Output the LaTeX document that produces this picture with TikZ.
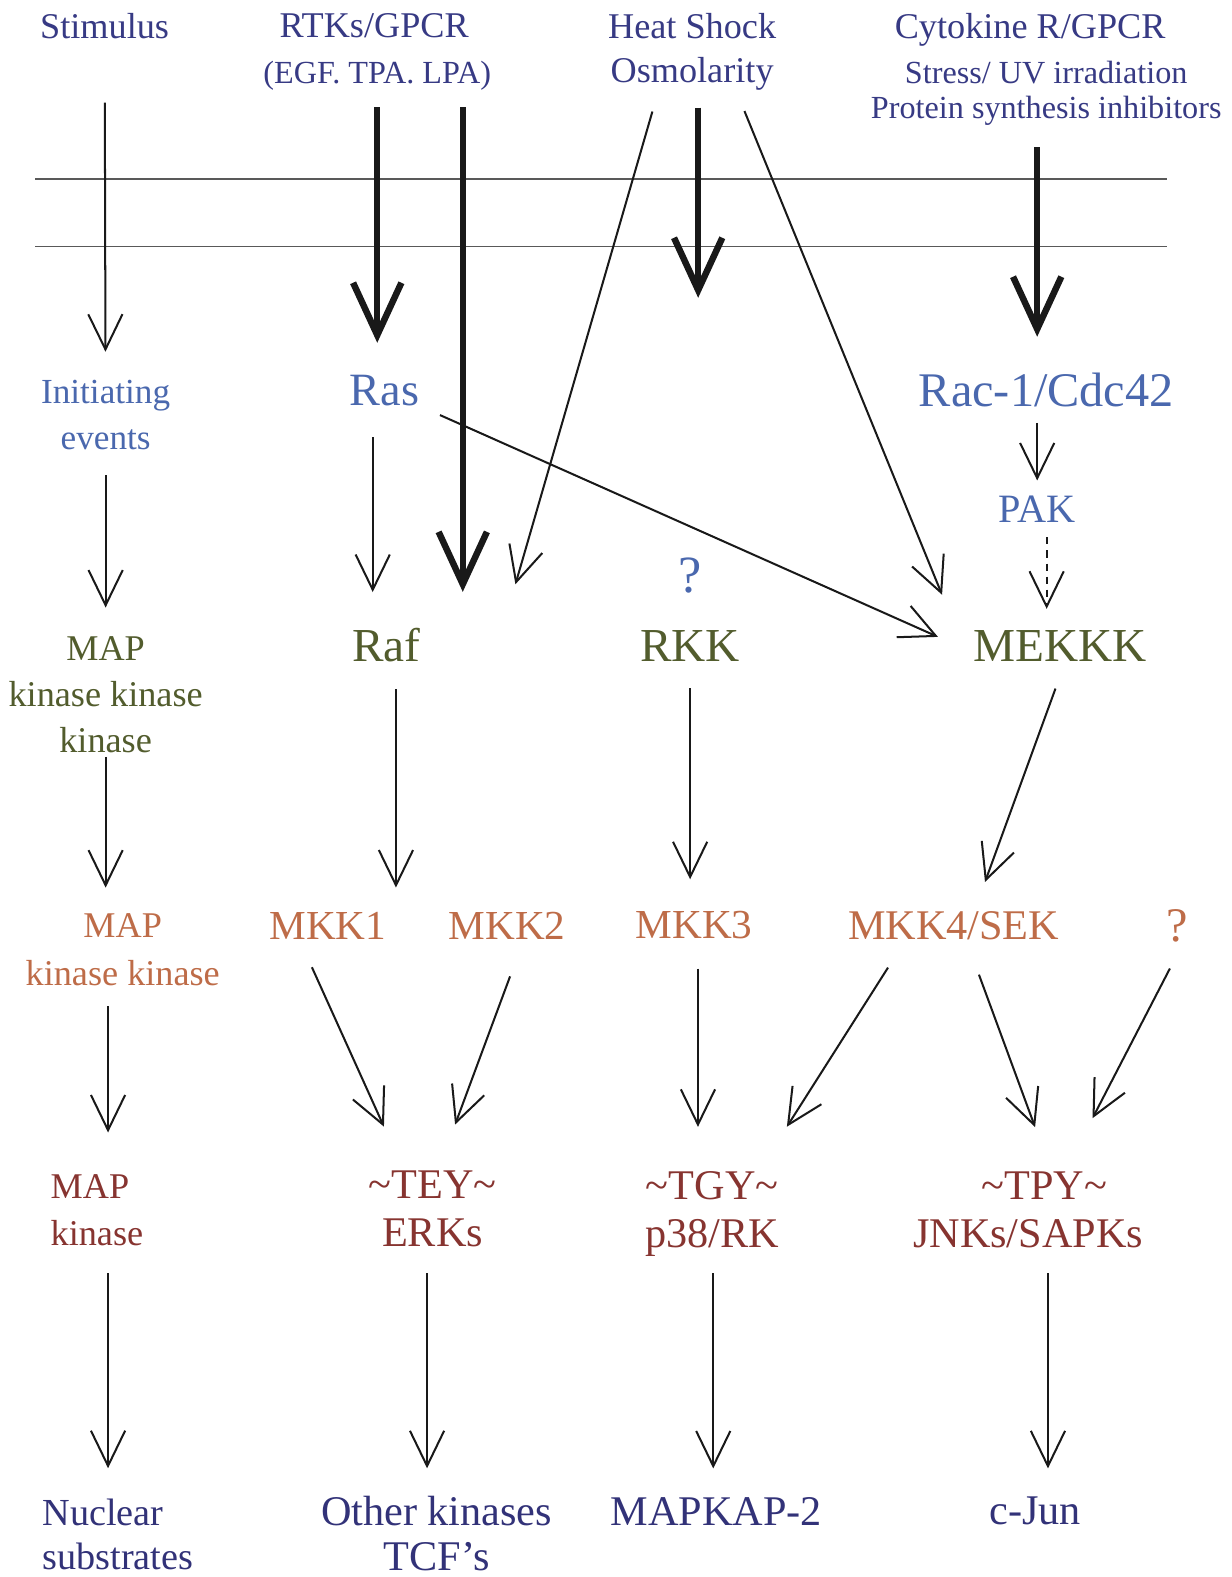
\documentclass[tikz,border=0pt]{standalone}
\usepackage{fontspec}
\setmainfont{Liberation Serif}
\usepackage{tikz}
\usetikzlibrary{arrows.meta}
\usepackage{xcolor}

\definecolor{cstim}{RGB}{55,58,132}
\definecolor{cinit}{RGB}{74,104,174}
\definecolor{ckkk}{RGB}{82,92,45}
\definecolor{ckk}{RGB}{190,108,72}
\definecolor{ck}{RGB}{135,52,48}
\definecolor{cout}{RGB}{50,50,120}
\newcommand{\txtsize}[2]{\fontsize{#1pt}{#2pt}\selectfont}

\begin{document}
\begin{tikzpicture}[x=0.5pt, y=-0.5pt,
  lbl/.style={inner sep=0pt, align=center},
  signal/.style={-{Straight Barb[length=17.5pt, width=17pt]}, line width=1pt, black!90},
  bigsignal/.style={-{Straight Barb[length=26pt, width=24pt]}, line width=3.2pt, black!90},
  weaksignal/.style={signal, dash pattern=on 3.5pt off 3pt}]
  \useasboundingbox[fill=white] (0, 0) rectangle (1224.6, 1567.6);

  % stimuli
  \node[lbl, text=cstim, font=\txtsize{18}{22}] (stim) at (104, 26) {Stimulus};
  \node[lbl, text=cstim, font=\txtsize{18}{22}] (rtk) at (372, 26) {RTKs/GPCR};
  \node[lbl, text=cstim, font=\txtsize{16}{18}] (rtkl) at (375, 75) {(EGF. TPA. LPA)};
  \node[lbl, text=cstim, font=\txtsize{18}{22}] (heat) at (688, 51.6) {Heat Shock\\Osmolarity};
  \node[lbl, text=cstim, font=\txtsize{18}{22}] (cyt) at (1024, 29.6) {Cytokine R/GPCR};
  \node[lbl, text=cstim, font=\txtsize{16}{17.5}] (stress) at (1040, 92.5) {Stress/ UV irradiation\\Protein synthesis inhibitors};

  % membrane
  \draw[line width=0.7pt, black!65] (35, 178) -- (1160, 178);
  \draw[line width=0.7pt, black!65] (35, 245) -- (1160, 245);

  % initiating events
  \node[lbl, text=cinit, font=\txtsize{17.5}{23}] (init) at (105, 412.6) {Initiating\\events};
  \node[lbl, text=cinit, font=\txtsize{23}{27}] (ras) at (382, 388) {Ras};
  \node[lbl, text=cinit, font=\txtsize{24}{28}] (rac) at (1040, 387.6) {Rac-1/Cdc42};
  \node[lbl, text=cinit, font=\txtsize{20}{24}] (pak) at (1031, 506) {PAK};
  \node[lbl, text=cinit, font=\txtsize{26}{30}] (rkkq) at (686, 572.5) {?};

  % MAP kinase kinase kinases
  \node[lbl, text=ckkk, font=\txtsize{18}{22.75}] (mkkk) at (105, 690.5) {MAP\\kinase kinase\\kinase};
  \node[lbl, text=ckkk, font=\txtsize{23.5}{28}] (raf) at (384, 641.5) {Raf};
  \node[lbl, text=ckkk, font=\txtsize{23.5}{28}] (rkk) at (686, 642) {RKK};
  \node[lbl, text=ckkk, font=\txtsize{23.5}{28}] (mekkk) at (1054, 642) {MEKKK};

  % MAP kinase kinases
  \node[lbl, text=ckk, font=\txtsize{18}{24}] (mkk) at (122, 944) {MAP\\kinase kinase};
  \node[lbl, text=ckk, font=\txtsize{20.5}{24}] (mkk1) at (326, 920) {MKK1};
  \node[lbl, text=ckk, font=\txtsize{20.5}{24}] (mkk2) at (504, 920) {MKK2};
  \node[lbl, text=ckk, font=\txtsize{20.5}{24}] (mkk3) at (690, 920) {MKK3};
  \node[lbl, text=ckk, font=\txtsize{21}{24}] (mkk4) at (948, 919.8) {MKK4/SEK};
  \node[lbl, text=ckk, font=\txtsize{24}{28}] (mkkq) at (1170, 920) {?};

  % MAP kinases
  \node[lbl, anchor=west, align=left, text=ck, font=\txtsize{18}{23}] (mapk) at (50, 1203) {MAP\\kinase};
  \node[lbl, text=ck, font=\txtsize{21}{24}] (erk) at (430, 1202) {\textasciitilde TEY\textasciitilde\\ERKs};
  \node[lbl, text=ck, font=\txtsize{21}{24}] (tgy) at (708, 1206.5) {\textasciitilde TGY\textasciitilde\\p38/RK};
  \node[lbl, text=ck, font=\txtsize{21}{24}] (tpy) at (1022, 1202.5) {\hspace*{16pt}\textasciitilde TPY\textasciitilde\\JNKs/SAPKs};

  % substrates
  \node[lbl, anchor=west, align=left, text=cout, font=\txtsize{19}{22.3}] (nuc) at (42, 1525.3) {Nuclear\\substrates};
  \node[lbl, text=cout, font=\txtsize{21}{22.3}] (other) at (434, 1524) {Other kinases\\TCF's};
  \node[lbl, text=cout, font=\txtsize{21}{24}] (mapkap) at (712, 1502) {MAPKAP-2};
  \node[lbl, text=cout, font=\txtsize{21}{24}] (cjun) at (1029, 1502) {c-Jun};

  \coordinate (hsend) at (694, 296);

  % through the membrane
  \draw[signal, shorten <=31.5pt, shorten >=13.9pt] (stim) -- (init);
  \draw[bigsignal, shorten <=8.4pt, shorten >=15.8pt] (rtkl.south) -- (rtkl.south |- ras.north);
  \draw[bigsignal, shorten <=8.4pt, shorten >=18pt] ([xshift=42.5pt]rtkl.south) -- ([xshift=42.5pt]rtkl.south |- raf.north);
  \draw[bigsignal, shorten <=8.3pt] (heat.south -| hsend) -- (hsend);
  \draw[signal] ([xshift=-19.75pt, yshift=-10.25pt]heat.south) -- ([xshift=47pt, yshift=21.75pt]raf.north east);
  \draw[signal] ([xshift=26pt, yshift=-10pt]heat.south) -- ([xshift=-15.5pt, yshift=17.5pt]mekkk.north west);
  \draw[bigsignal, shorten <=10.8pt, shorten >=17.8pt] (stress.south -| pak) -- (rac.north -| pak);

  % to the MAPKKKs
  \draw[signal, shorten <=7.7pt, shorten >=7.4pt] (rac.south -| pak) -- (pak.north);
  \draw[weaksignal, shorten <=7.3pt, shorten >=10.5pt] ([xshift=4.7pt]pak.south) -- ([xshift=4.7pt]pak.south |- mekkk.north);
  \draw[signal, shorten <=15.6pt, shorten >=17.9pt] ([xshift=-5.75pt]ras.south) -- ([xshift=-5.75pt]ras.south |- raf.north);
  \draw[signal, shorten <=11.2pt, shorten >=19.2pt] (ras) -- ([yshift=-3.35pt]mekkk.west);
  \draw[signal, shorten <=12.3pt, shorten >=14.3pt] (init) -- (mkkk);

  % to the MAPKKs
  \draw[signal, shorten <=2pt, shorten >=12.6pt] (mkkk.south) -- (mkkk.south |- mkk.north);
  \draw[signal, shorten <=13.2pt, shorten >=11.9pt] ([xshift=4.8pt]raf.south) -- ([xshift=4.8pt]raf.south |- mkk1.north);
  \draw[signal, shorten <=13.3pt, shorten >=15.9pt] (rkk.south) -- (rkk.south |- mkk3.north);
  \draw[signal, shorten <=14.2pt, shorten >=15.2pt] ([xshift=2.45pt]mekkk.south) -- ([xshift=10.35pt]mkk4.north);

  % to the MAPKs
  \draw[signal, shorten <=10pt, shorten >=20.9pt] ([xshift=1.2pt]mkk.south -| mkkk) -- ([xshift=1.2pt]mapk.north -| mkkk);
  \draw[signal, shorten <=15.1pt, shorten >=24pt] ([xshift=-14.2pt]mkk1.south) -- ([xshift=-14.3pt]erk.north);
  \draw[signal, shorten <=19.5pt, shorten >=24.4pt] ([xshift=8.3pt]mkk2.south) -- ([xshift=2.7pt]erk.north);
  \draw[signal, shorten <=14.3pt, shorten >=21.8pt] ([xshift=1.9pt]mkk3.south) -- ([xshift=1.9pt]mkk3.south |- tgy.north);
  \draw[signal, shorten <=16.3pt, shorten >=25.9pt] ([xshift=-23.9pt]mkk4.south) -- ([xshift=23.2pt]tgy.north);
  \draw[signal, shorten <=18.4pt, shorten >=23.3pt] ([xshift=6.2pt]mkk4.south) -- ([xshift=11.5pt]tpy.north);
  \draw[signal, shorten <=14.7pt, shorten >=29.6pt] ([xshift=3.2pt]mkkq.south) -- ([xshift=18.4pt]tpy.north);

  % to the substrates
  \draw[signal, shorten <=13.7pt, shorten >=14.9pt] ([xshift=1.2pt]mapk.south -| mkkk) -- ([xshift=1.2pt]nuc.north -| mkkk);
  \draw[signal, shorten <=12.7pt, shorten >=13.5pt] ([xshift=-2.75pt]erk.south) -- ([xshift=-2.75pt]erk.south |- other.north);
  \draw[signal, shorten <=8.2pt, shorten >=14pt] ([xshift=0.5pt]tgy.south) -- ([xshift=0.5pt]tgy.south |- mapkap.north);
  \draw[signal, shorten <=12.4pt, shorten >=14pt] ([xshift=9.85pt]tpy.south) -- ([xshift=9.85pt]tpy.south |- cjun.north);
\end{tikzpicture}
\end{document}
